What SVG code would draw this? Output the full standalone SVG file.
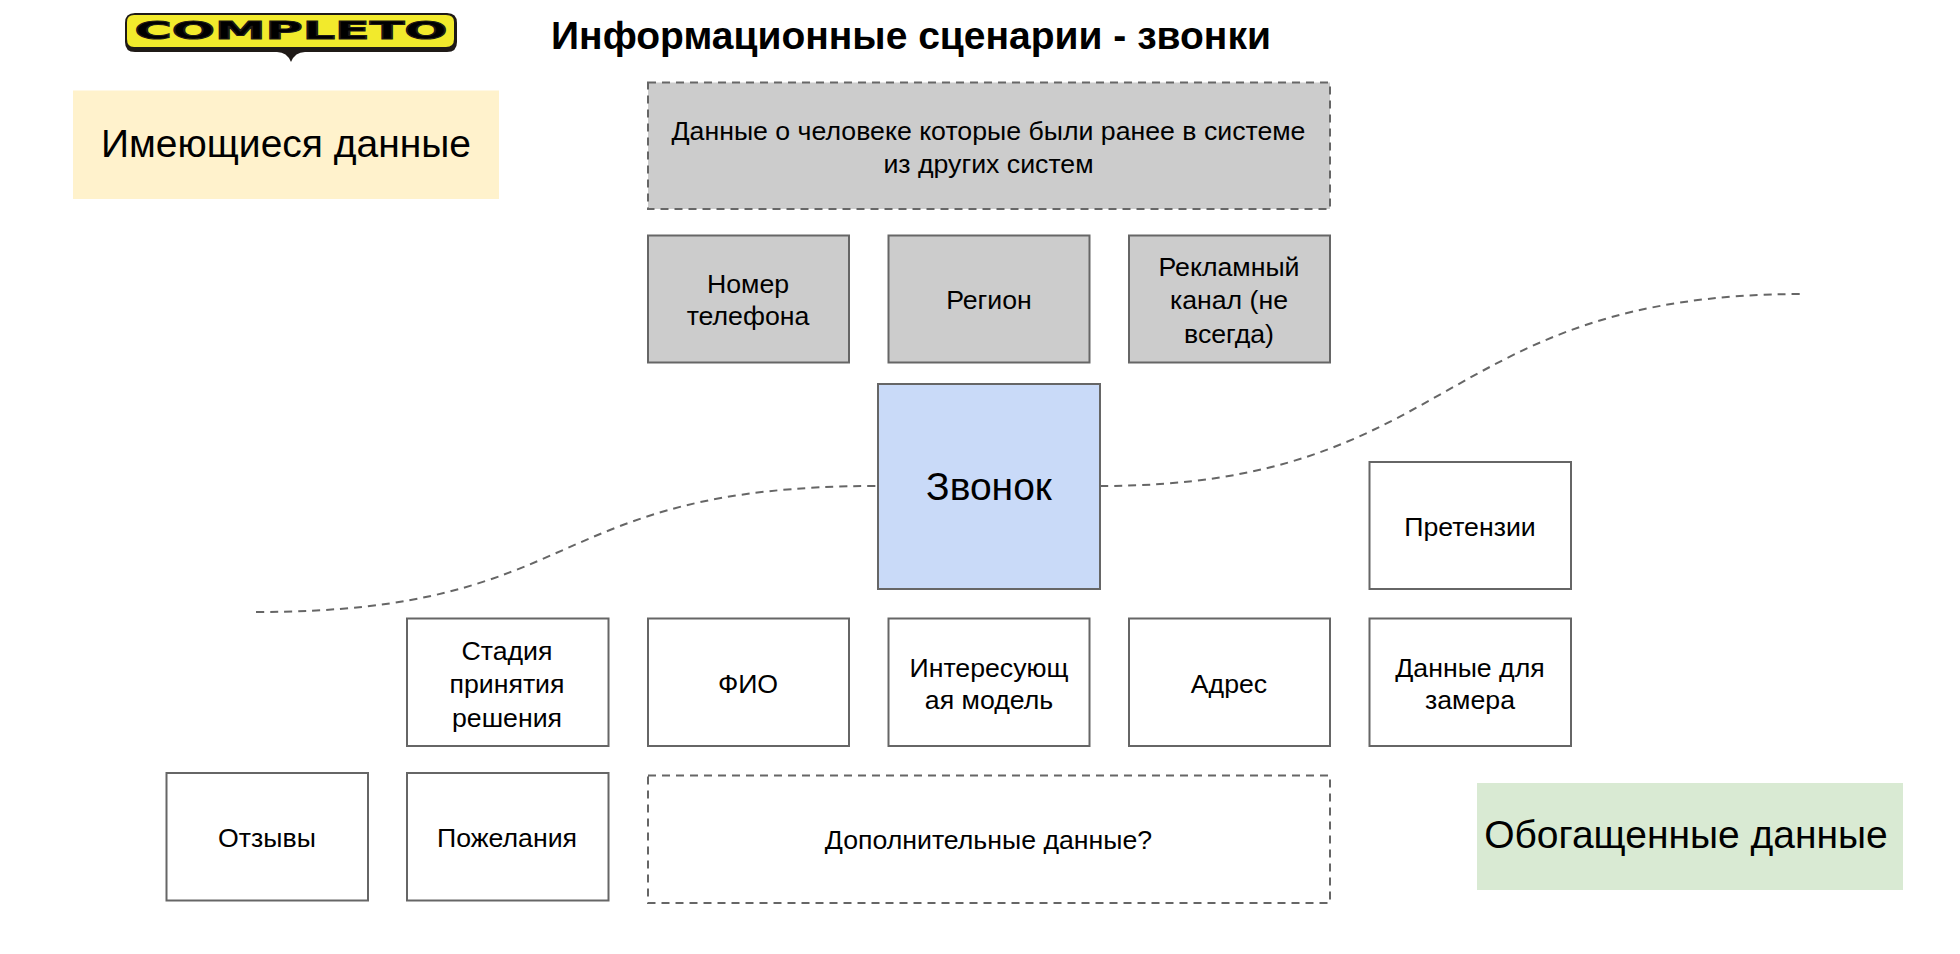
<svg xmlns="http://www.w3.org/2000/svg" width="1960" height="954" viewBox="0 0 1960 954">
<style>
text{font-family:"Liberation Sans",Arial,sans-serif;fill:#000;text-anchor:middle}
.b{stroke:#666;stroke-width:2;fill:#fff}
.g{fill:#ccc}
.d{stroke-dasharray:8 6}
.t{font-size:26.7px}
.big{font-size:39px}
.c{fill:none;stroke:#666;stroke-width:2;stroke-dasharray:8 6}
</style>
<rect width="1960" height="954" fill="#fff"/>
<g id="logo">
<path d="M134 13H447Q457 13 457 23V42Q457 52 447 52H305Q295 52 291 62Q287 52 277 52H135Q125 52 125 42V23Q125 13 135 13Z" fill="#1f1a17"/>
<path d="M134 15H446Q454 15 454 22V39Q454 47 446 47H134Q127 47 127 39V22Q127 15 134 15Z" fill="#f2ea2c"/>
<text x="291" y="39" font-size="24" font-weight="bold" textLength="313" lengthAdjust="spacingAndGlyphs" style="font-family:'DejaVu Sans',sans-serif" stroke="#1f1a17" stroke-width="1">COMPLETO</text>
</g>
<text id="title" x="911" y="49" font-size="39" font-weight="bold">Информационные сценарии - звонки</text>
<g id="connectors">
<path class="c" d="M256 612C590 612 540 486 877 486"/>
<path class="c" d="M1100 486C1458 486 1436 294 1803 294"/>
</g>
<g id="legend-existing"><rect x="73" y="90.500" width="426" height="108.500" fill="#fff2cc"/><text class="big" x="286" y="157">Имеющиеся данные</text></g>
<g id="legend-enriched"><rect x="1477" y="783" width="426" height="107" fill="#d9ead3"/><text class="big" x="1686" y="848">Обогащенные данные</text></g>
<g id="n-data"><rect class="b g d" x="648" y="82.500" width="682" height="126.500"/><text class="t" x="988.500" y="140">Данные о человеке которые были ранее в системе</text><text class="t" x="988.500" y="173">из других систем</text></g>
<g id="n-phone"><rect class="b g" x="648" y="235.500" width="201" height="127"/><text class="t" x="748" y="293">Номер</text><text class="t" x="748" y="325">телефона</text></g>
<g id="n-region"><rect class="b g" x="888.500" y="235.500" width="201" height="127"/><text class="t" x="989" y="309">Регион</text></g>
<g id="n-channel"><rect class="b g" x="1129" y="235.500" width="201" height="127"/><text class="t" x="1229" y="276">Рекламный</text><text class="t" x="1229" y="309">канал (не</text><text class="t" x="1229" y="343">всегда)</text></g>
<g id="n-call"><rect class="b" style="fill:#c9daf8" x="878" y="384" width="222" height="205"/><text x="989" y="500" font-size="39">Звонок</text></g>
<g id="n-claims"><rect class="b" x="1369.500" y="462" width="201.500" height="127"/><text class="t" x="1470" y="536">Претензии</text></g>
<g id="n-stage"><rect class="b" x="407" y="618.500" width="201.500" height="127.500"/><text class="t" x="507" y="660">Стадия</text><text class="t" x="507" y="693">принятия</text><text class="t" x="507" y="727">решения</text></g>
<g id="n-fio"><rect class="b" x="648" y="618.500" width="201" height="127.500"/><text class="t" x="748" y="693">ФИО</text></g>
<g id="n-model"><rect class="b" x="888.500" y="618.500" width="201" height="127.500"/><text class="t" x="989" y="677">Интересующ</text><text class="t" x="989" y="709">ая модель</text></g>
<g id="n-address"><rect class="b" x="1129" y="618.500" width="201" height="127.500"/><text class="t" x="1229" y="693">Адрес</text></g>
<g id="n-measure"><rect class="b" x="1369.500" y="618.500" width="201.500" height="127.500"/><text class="t" x="1470" y="677">Данные для</text><text class="t" x="1470" y="709">замера</text></g>
<g id="n-reviews"><rect class="b" x="166.500" y="773" width="201.500" height="127.500"/><text class="t" x="267" y="847">Отзывы</text></g>
<g id="n-wishes"><rect class="b" x="407" y="773" width="201.500" height="127.500"/><text class="t" x="507" y="847">Пожелания</text></g>
<g id="n-extra"><rect class="b d" x="648" y="775.500" width="682" height="127.500"/><text class="t" x="988.500" y="849">Дополнительные данные?</text></g>
</svg>
